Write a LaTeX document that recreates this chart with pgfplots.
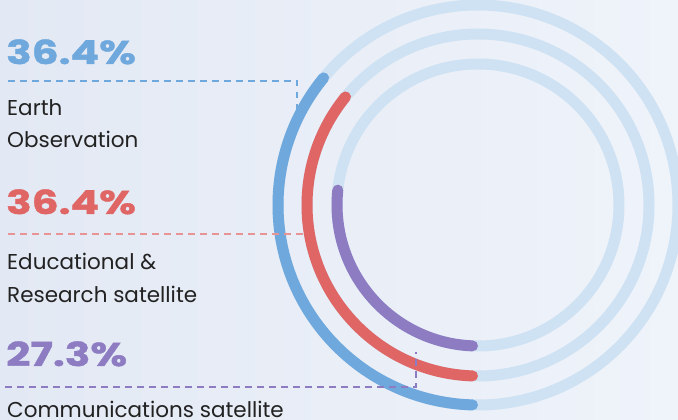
\documentclass[border=0pt]{standalone}
\usepackage{pgfplots}
\pgfplotsset{compat=1.18}
\usepackage{pgfplotstable}
\usepackage{fontspec}
\setmainfont{Poppins}
\newfontfamily\numfont[FakeStretch=1.28, FakeBold=1.3]{Poppins}
\definecolor{cblue}{HTML}{6FA8DC}
\definecolor{cred}{HTML}{E06666}
\definecolor{cpurple}{HTML}{8E7CC3}
\definecolor{ctrack}{HTML}{CFE2F3}
\definecolor{bgA}{HTML}{E3E9F4}
\definecolor{bgB}{HTML}{EFF3FA}
\definecolor{ctext}{HTML}{222222}

\pgfplotstableread{
label pct radius
EO 36.4 200
ER 36.4 171
CS 27.3 141
}\ringdata
\pgfplotstablegetelem{0}{pct}\of\ringdata \global\let\pctA\pgfplotsretval
\pgfplotstablegetelem{1}{pct}\of\ringdata \global\let\pctB\pgfplotsretval
\pgfplotstablegetelem{2}{pct}\of\ringdata \global\let\pctC\pgfplotsretval
\pgfplotstablegetelem{0}{radius}\of\ringdata \global\let\radA\pgfplotsretval
\pgfplotstablegetelem{1}{radius}\of\ringdata \global\let\radB\pgfplotsretval
\pgfplotstablegetelem{2}{radius}\of\ringdata \global\let\radC\pgfplotsretval

% color, percent, radius
\newcommand\ringarc[3]{%
  \draw[#1, line width=11pt, line cap=round]
    (axis cs:478,215) ++({-90-5.5/#3*57.2958}:#3pt)
    arc[start angle={-90-5.5/#3*57.2958}, delta angle={-3.6*#2+2*5.5/#3*57.2958}, radius=#3pt];}

\begin{document}
\begin{tikzpicture}
\begin{axis}[
  width=678pt, height=420pt, scale only axis,
  xmin=0, xmax=678, ymin=0, ymax=420,
  hide axis, clip=true,
]
\coordinate (SW) at (axis cs:0,0);
\coordinate (NE) at (axis cs:678,420);
\shade[left color=bgA, right color=bgB] (axis cs:0,0) rectangle (axis cs:678,420);
% tracks
\draw[ctrack, line width=11pt] (axis cs:478,215) circle[radius=\radA pt];
\draw[ctrack, line width=11pt] (axis cs:478,215) circle[radius=\radB pt];
\draw[ctrack, line width=11pt] (axis cs:478,215) circle[radius=\radC pt];
% value arcs
\ringarc{cblue}{\pctA}{\radA}
\ringarc{cred}{\pctB}{\radB}
\ringarc{cpurple}{\pctC}{\radC}
% leader lines
\draw[cblue, line width=1.4pt, dash pattern=on 6.5pt off 5.5pt] (axis cs:8,339) -- (axis cs:297,339) -- (axis cs:297,305);
\draw[cred!70!white, line width=1.4pt, dash pattern=on 6.5pt off 5.5pt] (axis cs:8,186) -- (axis cs:308,186);
\draw[cpurple, line width=1.4pt, dash pattern=on 6.5pt off 5.5pt] (axis cs:5,33) -- (axis cs:416,33) -- (axis cs:416,68);
% labels
\node[anchor=base west, inner sep=0pt, text=cblue, font=\numfont\bfseries\fontsize{33}{33}\selectfont] at (axis cs:6,356) {\pctA\%};
\node[anchor=base west, inner sep=0pt, text=cred, font=\numfont\bfseries\fontsize{33}{33}\selectfont] at (axis cs:6,206) {\pctB\%};
\node[anchor=base west, inner sep=0pt, text=cpurple, font=\numfont\bfseries\fontsize{33}{33}\selectfont] at (axis cs:6,54) {\pctC\%};
\node[anchor=base west, inner sep=0pt, text=ctext, font=\fontsize{21.5}{21.5}\selectfont] at (axis cs:7,304) {Earth};
\node[anchor=base west, inner sep=0pt, text=ctext, font=\fontsize{21.5}{21.5}\selectfont] at (axis cs:7,272) {Observation};
\node[anchor=base west, inner sep=0pt, text=ctext, font=\fontsize{21.5}{21.5}\selectfont] at (axis cs:7,150) {Educational \&};
\node[anchor=base west, inner sep=0pt, text=ctext, font=\fontsize{21.5}{21.5}\selectfont] at (axis cs:7,117) {Research satellite};
\node[anchor=base west, inner sep=0pt, text=ctext, font=\fontsize{21.5}{21.5}\selectfont] at (axis cs:7,2) {Communications satellite};
\end{axis}
\pgfresetboundingbox
\path[use as bounding box] (SW) rectangle (NE);
\end{tikzpicture}
\end{document}
